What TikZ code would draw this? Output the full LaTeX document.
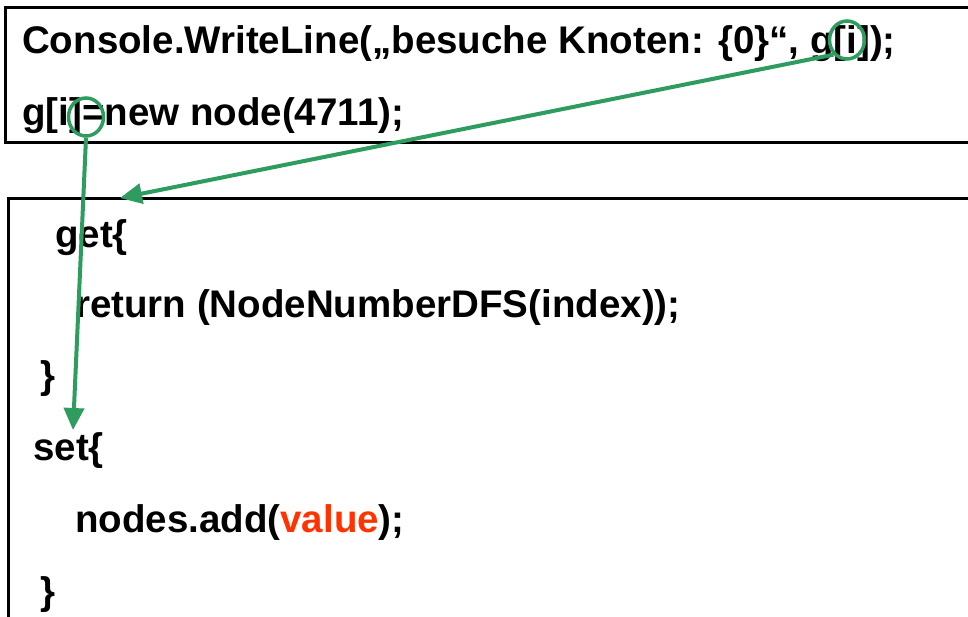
\documentclass[tikz,border=0pt]{standalone}
\usepackage{fontspec}
\setmainfont{Liberation Sans}
\usetikzlibrary{shapes.geometric,arrows.meta}
\definecolor{grn}{HTML}{2E9B5F}
\definecolor{rd}{HTML}{FF3300}
\tikzset{
  box/.style={draw=black,line width=3pt},
  codeA/.style={anchor=base west,inner sep=0pt,font=\fontsize{38.5}{38.5}\selectfont\bfseries},
  codeB/.style={anchor=base west,inner sep=0pt,font=\fontsize{38.5}{38.5}\selectfont\bfseries},
  ring/.style={draw=grn,line width=3.5pt,ellipse,minimum width=35pt,minimum height=38pt,inner sep=0pt},
  link/.style={draw=grn,line width=4pt,-{Triangle[length=22pt,width=20pt]}},
}
\begin{document}
\begin{tikzpicture}[x=1pt,y=-1pt]
\useasboundingbox (0,0) rectangle (968,616);
\draw[box] (5,7) rectangle (980,142);
\draw[box] (8,198) rectangle (980,630);
\node[codeA] (l1) at (22,53) {Console.WriteLine(„besuche Knoten: \{0\}“, g[i]);};
\node[codeA] (l2) at (22,125) {g[i]=new node(4711);};
\node[codeB] (b1) at (55,247) {get\{};
\node[codeB] (b2) at (75,317) {return (NodeNumberDFS(index));};
\node[codeB] (b3) at (40,388) {\}};
\node[codeB] (b4) at (33,460) {set\{};
\node[codeB] (b5) at (75,532) {nodes.add(\textcolor{rd}{value});};
\node[codeB] (b6) at (40,604) {\}};
\node[ring] (c1) at (847,40) {};
\node[ring] (c2) at (86,117) {};
\coordinate (t1) at (120,198);
\coordinate (t2) at (73,430);
\draw[link] (c1.south west) -- (t1);
\draw[link] (c2.south) -- (t2);
\end{tikzpicture}
\end{document}
